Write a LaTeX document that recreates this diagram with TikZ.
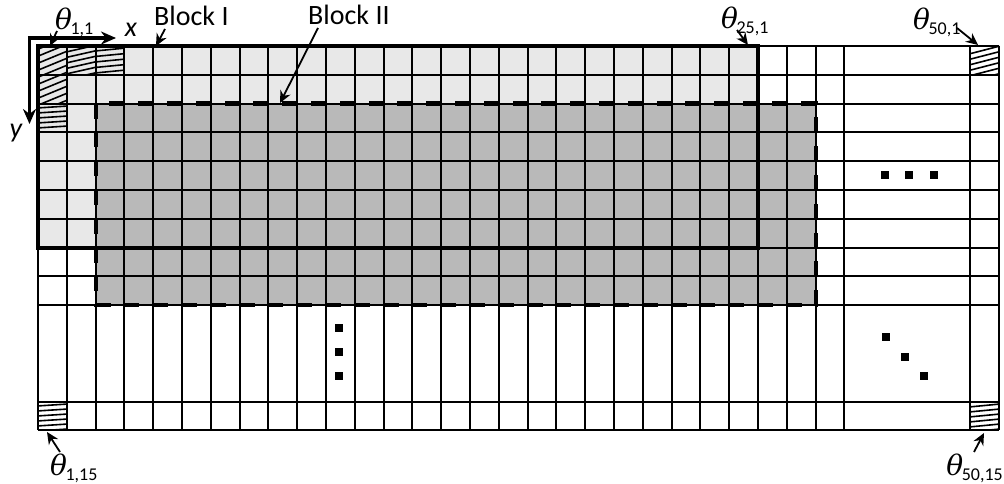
\documentclass[tikz,border=0pt]{standalone}
\usepackage{fontspec}
\setmainfont{Carlito}
\newfontfamily\thfont{DejaVu Serif}
\usetikzlibrary{arrows.meta}
\newcommand{\thlab}[1]{{\fontsize{28}{28}\selectfont\thfont\itshape θ}\kern-1.5pt{\fontsize{18}{18}\selectfont\raisebox{-5pt}{#1}}}
\begin{document}
\begin{tikzpicture}[x=1pt,y=-1pt,
  gridline/.style={line width=2pt,black},
  hatchline/.style={line width=1.6pt,black},
  blockone/.style={line width=4.2pt,black},
  blocktwo/.style={line width=4.2pt,black,dash pattern=on 15pt off 13.8pt},
  lbl/.style={font=\fontsize{28}{28}\selectfont,inner sep=0pt},
  axlbl/.style={font=\fontsize{28}{28}\selectfont\itshape,inner sep=0pt},
  pointer/.style={line width=1.8pt,-{Stealth[length=12pt,width=11pt]}},
  axis/.style={line width=3.2pt,-{Stealth[length=15pt,width=13pt]}},
  dotsq/.style={fill=black,minimum size=7.5pt,inner sep=0pt}]
\useasboundingbox (0,0) rectangle (1004,484);
% fills
\fill[gray!18] (38,46) rectangle (758,247.6);
\fill[gray!55] (95.6,103.6) rectangle (815.6,305.2);
% hatches
\begin{scope}
\clip (38,46) rectangle (66.8,103.6);
\foreach \k in {0,...,14} \draw[hatchline] (36,{50+7*\k}) -- (70,{36+7*\k});
\end{scope}
\begin{scope}
\clip (66.8,46) rectangle (95.6,74.8);
\foreach \k in {0,...,6} \draw[hatchline] (66,{52+5.5*\k}) -- (97,{45+5.5*\k});
\end{scope}
\begin{scope}
\clip (95.6,46) rectangle (124.4,74.8);
\foreach \k in {0,...,6} \draw[hatchline] (95,{51+5.5*\k}) -- (126,{48+5.5*\k});
\end{scope}
\begin{scope}
\clip (38,103.6) rectangle (66.8,132.4);
\foreach \k in {0,...,4} \draw[hatchline] (37,{108+5*\k}) -- (68,{106+5*\k});
\end{scope}
\begin{scope}
\clip (970,46) rectangle (999,74.8);
\foreach \k in {0,...,6} \draw[hatchline] (969,{54+5.5*\k}) -- (1000,{46+5.5*\k});
\end{scope}
\begin{scope}
\clip (38,402) rectangle (66.8,430);
\foreach \k in {0,...,5} \draw[hatchline] (37,{406+5*\k}) -- (68,{404+5*\k});
\end{scope}
\begin{scope}
\clip (970,402) rectangle (999,430);
\foreach \k in {0,...,5} \draw[hatchline] (969,{407+5*\k}) -- (1000,{404+5*\k});
\end{scope}
% grid
\foreach \i in {0,...,28} \draw[gridline] ({38+28.8*\i},46) -- ({38+28.8*\i},430);
\foreach \xx in {970,999} \draw[gridline] (\xx,46) -- (\xx,430);
\foreach \j in {0,...,9} \draw[gridline] (38,{46+28.8*\j}) -- (999,{46+28.8*\j});
\foreach \yy in {402,430} \draw[gridline] (38,\yy) -- (999,\yy);
% blocks
\draw[blockone] (38,46) rectangle (758,247.6);
\draw[blocktwo] (95.6,103.6) rectangle (815.6,305.2);
% axes
\coordinate (o) at (29.5,38);
\coordinate (xe) at (116,38);
\coordinate (ye) at (29.5,124);
\draw[axis] ([xshift=-1.6pt]o) -- (xe);
\draw[axis] (o) -- (ye);
\node[axlbl] (xl) at (131,30) {x};
\node[axlbl] (yl) at (16,133) {y};
% labels
\node[lbl,anchor=base west] (t11) at (55,30) {\thlab{1,1}};
\node[lbl,anchor=base west] (b1) at (154,26) {Block I};
\node[lbl,anchor=base west] (b2) at (308,25) {Block II};
\node[lbl,anchor=base west] (t251) at (721,29) {\thlab{25,1}};
\node[lbl,anchor=base west] (t501) at (913,30) {\thlab{50,1}};
\node[lbl,anchor=base west] (t115) at (50,475) {\thlab{1,15}};
\node[lbl,anchor=base east] (t5015) at (1003,475) {\thlab{50,15}};
% pointer ends
\coordinate (s11) at (57,31); \coordinate (e11) at (50,46);
\coordinate (sb1) at (165,29); \coordinate (eb1) at (156,46);
\coordinate (sb2) at (318,28); \coordinate (eb2) at (280,103);
\coordinate (s251) at (737,30); \coordinate (e251) at (748,45);
\coordinate (s501) at (957,28); \coordinate (e501) at (978,45);
\coordinate (s115) at (60,452); \coordinate (e115) at (47,432);
\coordinate (s5015) at (974,452); \coordinate (e5015) at (984,433);
\draw[pointer] (s11) -- (e11);
\draw[pointer] (sb1) -- (eb1);
\draw[pointer] (sb2) -- (eb2);
\draw[pointer] (s251) -- (e251);
\draw[pointer] (s501) -- (e501);
\draw[pointer] (s115) -- (e115);
\draw[pointer] (s5015) -- (e5015);
% dots
\node[dotsq] (h1) at (885,175) {};
\node[dotsq] (h2) at (909,175) {};
\node[dotsq] (h3) at (934,175) {};
\node[dotsq] (v1) at (339,328) {};
\node[dotsq] (v2) at (339,352) {};
\node[dotsq] (v3) at (339,376) {};
\node[dotsq] (d1) at (886,337) {};
\node[dotsq] (d2) at (905,357) {};
\node[dotsq] (d3) at (924,376) {};
\end{tikzpicture}
\end{document}
